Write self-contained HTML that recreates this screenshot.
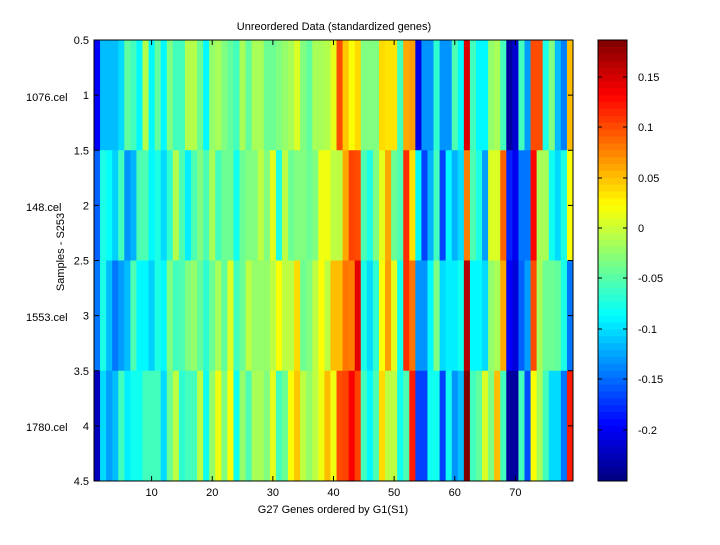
<!DOCTYPE html>
<html><head><meta charset="utf-8"><style>
body{margin:0;background:#fff;width:720px;height:540px;overflow:hidden}
svg text{font-family:"Liberation Sans",sans-serif;font-size:11px;fill:#000}
</style></head><body>
<svg id="s" width="720" height="540" xmlns="http://www.w3.org/2000/svg">
<rect width="720" height="540" fill="#fff"/>
<g id="hm"></g>
<g id="cb"></g>
<rect x="94" y="40" width="479" height="441" fill="none" stroke="#000" stroke-width="1"/>
<rect x="598" y="40" width="29" height="441" fill="none" stroke="#000" stroke-width="1"/>
<g id="ax"></g>
<text x="334" y="30" text-anchor="middle">Unreordered Data (standardized genes)</text>
<text x="333" y="513" text-anchor="middle">G27 Genes ordered by G1(S1)</text>
<text transform="translate(64,252) rotate(-90)" text-anchor="middle">Samples - S253</text>
<text x="26" y="101">1076.cel</text>
<text x="26" y="211">148.cel</text>
<text x="26" y="321">1553.cel</text>
<text x="26" y="431">1780.cel</text>
</svg>
<script>
var R=[
[12,31,31,31,34,47,44,37,55,37,47,37,50,44,44,55,55,48,37,52, 54,50,47,44,54,47,54,54,48,48,50,52,54,59,50,47,54,54,55,60, 80,68,62,66,50,50,50,66,65,65,44,71,72,10,27,27,42,27,27,45, 37,91,44,37,37,52,54,44,3,8,44,28,80,80,40,50,31,25,69],
[22,40,38,33,44,27,30,45,45,37,40,34,42,55,45,36,45,50,45,54, 44,48,48,39,48,50,50,56,50,60,40,56,48,50,50,48,50,61,61,56, 56,71,81,80,45,40,50,60,71,48,45,83,65,37,19,30,44,19,37,30, 34,75,45,40,28,59,59,78,16,11,24,24,87,54,54,39,34,40,62],
[24,40,31,24,28,31,45,37,37,33,40,37,50,44,45,50,52,47,42,48, 54,47,59,44,48,56,52,52,52,56,62,56,56,66,48,50,56,62,56,69, 69,76,75,90,40,34,42,62,72,60,39,83,76,27,27,37,50,34,36,36, 39,95,37,37,34,52,54,71,12,9,22,28,80,54,48,48,47,40,24],
[6,34,28,31,44,36,39,39,44,44,44,34,48,56,42,44,44,56,39,52, 61,50,62,39,52,45,54,54,50,60,44,48,62,68,56,52,56,61,69,61, 80,81,88,81,44,37,45,66,56,56,39,45,85,19,19,39,39,19,39,27, 31,100,44,47,59,50,69,44,3,3,44,20,62,54,44,34,34,24,85]];
function cl(x){return Math.max(0,Math.min(1,x))}
function jet(v){var r=cl(1.5-Math.abs(4*v-3)),g=cl(1.5-Math.abs(4*v-2)),b=cl(1.5-Math.abs(4*v-1));
return 'rgb('+Math.round(r*255)+','+Math.round(g*255)+','+Math.round(b*255)+')'}
var h='',w=479/79;
for(var i=0;i<4;i++)for(var j=0;j<79;j++){
h+='<rect x="'+(94+j*w).toFixed(2)+'" y="'+(40+i*110.25)+'" width="'+(w+0.4).toFixed(2)+'" height="110.6" fill="'+jet(R[i][j]/100)+'"/>';}
document.getElementById('hm').innerHTML=h;
var c='',n=64,hh=441/n;
for(var k=0;k<n;k++){c+='<rect x="598" y="'+(40+k*hh).toFixed(2)+'" width="29" height="'+(hh+0.4).toFixed(2)+'" fill="'+jet(1-(k+0.5)/n)+'"/>';}
document.getElementById('cb').innerHTML=c;
var a='';
var yl=['0.5','1','1.5','2','2.5','3','3.5','4','4.5'];
for(var k=0;k<9;k++){var y=40+k*55.125;
a+='<line x1="94" x2="99" y1="'+y+'" y2="'+y+'" stroke="#000"/><line x1="568" x2="573" y1="'+y+'" y2="'+y+'" stroke="#000"/>';
a+='<text x="89" y="'+(y+4)+'" text-anchor="end">'+yl[k]+'</text>';}
for(var t=10;t<=70;t+=10){var x=94+(t-0.5)*w;
a+='<line x1="'+x+'" x2="'+x+'" y1="481" y2="476" stroke="#000"/><line x1="'+x+'" x2="'+x+'" y1="40" y2="45" stroke="#000"/>';
a+='<text x="'+x+'" y="496" text-anchor="middle">'+t+'</text>';}
var cv=[['0.15',77],['0.1',127],['0.05',178],['0',228],['-0.05',278],['-0.1',329],['-0.15',379],['-0.2',430]];
for(var k=0;k<cv.length;k++){var y=cv[k][1];
a+='<line x1="598" x2="602" y1="'+y+'" y2="'+y+'" stroke="#000"/><line x1="623" x2="627" y1="'+y+'" y2="'+y+'" stroke="#000"/>';
a+='<text x="638" y="'+(y+4)+'">'+cv[k][0]+'</text>';}
document.getElementById('ax').innerHTML=a;
</script>
</body></html>
